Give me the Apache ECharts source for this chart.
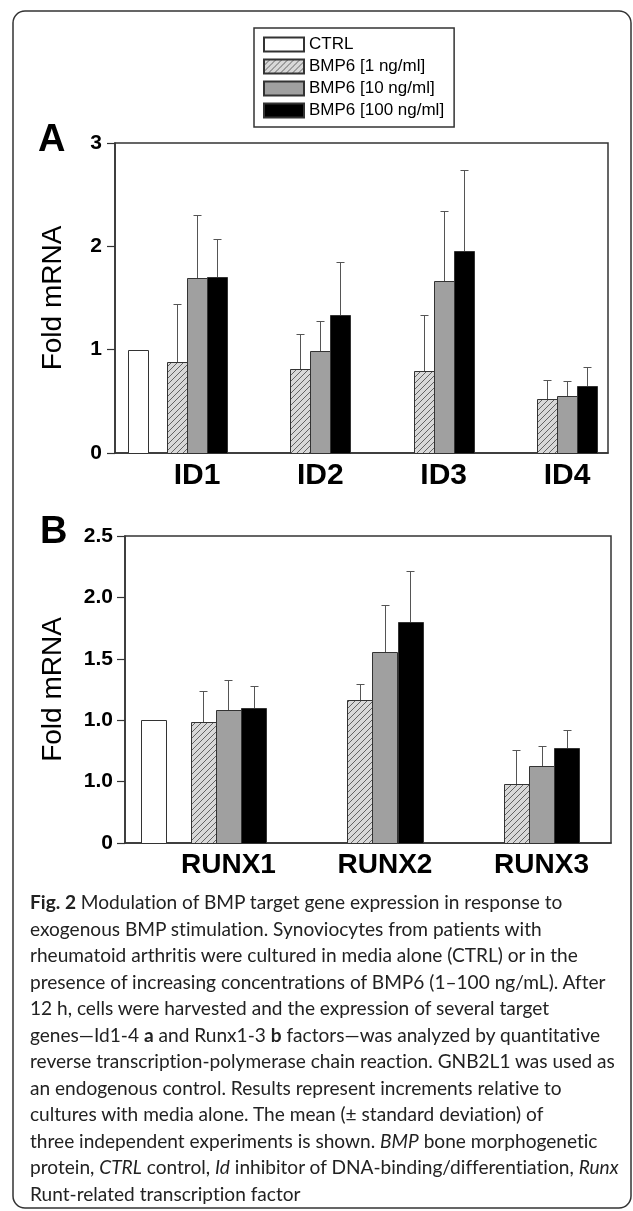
<!DOCTYPE html>
<html>
<head>
<meta charset="utf-8">
<title>BMP target genes</title>
<script src="https://cdn.jsdelivr.net/npm/echarts@6/dist/echarts.min.js"></script>
<style>
html, body { margin: 0; padding: 0; background: #fff; }
#wrap { position: relative; width: 633px; height: 1211px; overflow: hidden; }
#main { position: absolute; left: 0; top: 0; width: 633px; height: 1211px; }
#caption {
    position: absolute; left: 30px; top: 889px;
    font-family: 'Lato', sans-serif; font-size: 19.1px; line-height: 26.5px;
    font-variant-ligatures: none;
    color: #222; white-space: nowrap;
}
#caption b { font-weight: 700; }
</style>
</head>
<body>
<div id="wrap">
    <div id="main"></div>
    <div id="caption">
        <div><b>Fig. 2</b> Modulation of BMP target gene expression in response to</div>
        <div>exogenous BMP stimulation. Synoviocytes from patients with</div>
        <div>rheumatoid arthritis were cultured in media alone (CTRL) or in the</div>
        <div>presence of increasing concentrations of BMP6 (1–100 ng/mL). After</div>
        <div>12 h, cells were harvested and the expression of several target</div>
        <div>genes—Id1-4 <b>a</b> and Runx1-3 <b>b</b> factors—was analyzed by quantitative</div>
        <div>reverse transcription-polymerase chain reaction. GNB2L1 was used as</div>
        <div>an endogenous control. Results represent increments relative to</div>
        <div>cultures with media alone. The mean (± standard deviation) of</div>
        <div>three independent experiments is shown. <i>BMP</i> bone morphogenetic</div>
        <div>protein, <i>CTRL</i> control, <i>Id</i> inhibitor of DNA-binding/differentiation, <i>Runx</i></div>
        <div>Runt-related transcription factor</div>
    </div>
</div>
<script>
// ---- data ----
const seriesNames = ['CTRL', 'BMP6 [1 ng/ml]', 'BMP6 [10 ng/ml]', 'BMP6 [100 ng/ml]'];

// panel A: Id genes
const genesA = ['ID1', 'ID2', 'ID3', 'ID4'];
const ctrlA = 1.0;
const bmp1A = [0.88, 0.815, 0.795, 0.52];
const bmp1A_sd = [0.565, 0.335, 0.54, 0.188];
const bmp10A = [1.69, 0.986, 1.668, 0.553];
const bmp10A_sd = [0.615, 0.294, 0.672, 0.145];
const bmp100A = [1.70, 1.335, 1.953, 0.65];
const bmp100A_sd = [0.37, 0.515, 0.785, 0.184];
const yTicksA = ['0', '1', '2', '3'];

// panel B: Runx genes
const genesB = ['RUNX1', 'RUNX2', 'RUNX3'];
const ctrlB = 1.0;
const bmp1B = [0.982, 1.164, 0.483];
const bmp1B_sd = [0.253, 0.133, 0.277];
const bmp10B = [1.08, 1.552, 0.627];
const bmp10B_sd = [0.244, 0.383, 0.165];
const bmp100B = [1.096, 1.802, 0.773];
const bmp100B_sd = [0.184, 0.41, 0.147];
const yTicksB = ['0', '1.0', '1.0', '1.5', '2.0', '2.5'];  // as printed in the figure

// ---- layout ----
const CTRL_X = 0.52;   // ctrl bar sits left of the first group
const BAR_A = 0.162, BAR_B = 0.16;
const LINE = '#333';
const FONT = 'Liberation Sans, Arial, sans-serif';

// hatched fill for 1 ng/ml
function makeHatch() {
    const s = 6;
    const c = document.createElement('canvas');
    c.width = s; c.height = s;
    const g = c.getContext('2d');
    g.fillStyle = '#d8d8d8';
    g.fillRect(0, 0, s, s);
    g.strokeStyle = '#555';
    g.lineWidth = 0.9;
    g.beginPath();
    g.moveTo(0, s); g.lineTo(s, 0);
    g.moveTo(-1, 1); g.lineTo(1, -1);
    g.moveTo(s - 1, s + 1); g.lineTo(s + 1, s - 1);
    g.stroke();
    return c;
}
const hatchFill = { image: makeHatch(), repeat: 'repeat' };
const fills = ['#fff', hatchFill, '#a0a0a0', '#000'];

function pts(vals, sds) {
    return vals.map((v, i) => [i + 1, v, sds[i]]);
}

function barRender(offset, width, fill) {
    return function (params, api) {
        const x = api.value(0) + offset;
        const v = api.value(1);
        const sd = api.value(2);
        const p0 = api.coord([x - width / 2, 0]);
        const p1 = api.coord([x + width / 2, v]);
        const children = [{
            type: 'rect',
            shape: { x: Math.round(p0[0]) + 0.5, y: Math.round(p1[1]) + 0.5,
                     width: Math.round(p1[0] - p0[0]), height: Math.round(p0[1] - p1[1]) },
            style: { fill: fill, stroke: LINE, lineWidth: 1 }
        }];
        if (sd > 0) {
            const b = api.coord([x, v]);
            const t = api.coord([x, v + sd]);
            const cx = Math.round(b[0]) + 0.5;
            const ty = Math.round(t[1]) + 0.5;
            children.push({
                type: 'line', shape: { x1: cx, y1: Math.round(b[1]), x2: cx, y2: ty },
                style: { stroke: '#555', lineWidth: 1 }
            });
            children.push({
                type: 'line', shape: { x1: cx - 4, y1: ty, x2: cx + 4, y2: ty },
                style: { stroke: '#555', lineWidth: 1 }
            });
        }
        return { type: 'group', children: children };
    };
}

function panelSeries(idx, ctrl, groups, barW) {
    const out = [];
    out.push({
        name: seriesNames[0], type: 'custom', xAxisIndex: idx, yAxisIndex: idx,
        itemStyle: { color: fills[0], borderColor: LINE, borderWidth: 1 },
        renderItem: barRender(0, barW, fills[0]),
        data: [[CTRL_X, ctrl, 0]]
    });
    groups.forEach((g, k) => {
        out.push({
            name: seriesNames[k + 1], type: 'custom', xAxisIndex: idx, yAxisIndex: idx,
            itemStyle: { color: fills[k + 1], borderColor: LINE, borderWidth: 1 },
            renderItem: barRender((k - 1) * barW, barW, fills[k + 1]),
            data: g
        });
    });
    return out;
}

function xAxisFor(idx, genes, min, max, size) {
    return {
        type: 'value', gridIndex: idx, min: min, max: max,
        axisLine: { show: true, lineStyle: { color: LINE, width: 1.5 } },
        axisTick: { show: false },
        splitLine: { show: false },
        axisLabel: {
            customValues: genes.map((g, i) => i + 1),
            formatter: v => genes[Math.round(v) - 1] || '',
            color: '#000', fontFamily: FONT, fontWeight: 'bold', fontSize: size, margin: 8
        }
    };
}

function yAxisFor(idx, max, step, ticks, gap, labelGap) {
    return {
        type: 'value', gridIndex: idx, min: 0, max: max, interval: step,
        name: 'Fold mRNA', nameLocation: 'middle', nameGap: gap, nameRotate: 90,
        nameTextStyle: { color: '#000', fontFamily: FONT, fontSize: 28 },
        axisLine: { show: true, lineStyle: { color: LINE, width: 1.5 } },
        axisTick: { show: true, length: 8, lineStyle: { color: LINE, width: 1.2 } },
        splitLine: { show: false },
        axisLabel: {
            formatter: v => ticks[Math.round(v / step)],
            color: '#000', fontFamily: FONT, fontWeight: 'bold', fontSize: 21, margin: labelGap
        }
    };
}

const chart = echarts.init(document.getElementById('main'));
chart.setOption({
    animation: false,
    backgroundColor: '#fff',
    legend: {
        data: seriesNames, selectedMode: false, orient: 'vertical',
        left: 254, top: 28, padding: [8, 10, 8, 9],
        borderColor: LINE, borderWidth: 1.5,
        icon: 'rect', itemWidth: 40, itemHeight: 14, itemGap: 5, itemTextGap: 5,
        textStyle: { color: '#000', fontFamily: FONT, fontSize: 17, lineHeight: 14 }
    },
    grid: [
        { left: 115, top: 143, width: 493, height: 310, show: true, borderColor: LINE, borderWidth: 1.5 },
        { left: 125, top: 536, width: 486, height: 307, show: true, borderColor: LINE, borderWidth: 1.5 }
    ],
    xAxis: [
        xAxisFor(0, genesA, 0.335, 4.332, 30),
        xAxisFor(1, genesB, 0.339, 3.444, 28)
    ],
    yAxis: [
        yAxisFor(0, 3, 1, yTicksA, 48, 13),
        yAxisFor(1, 2.5, 0.5, yTicksB, 58, 12)
    ],
    graphic: [
        { type: 'rect', shape: { x: 13, y: 11, width: 618, height: 1197, r: 12 },
          style: { fill: 'none', stroke: LINE, lineWidth: 1.5 }, z: -1 },
        { type: 'text', left: 38, top: 122, style: { text: 'A', font: 'bold 38px ' + FONT, fill: '#000' } },
        { type: 'text', left: 40, top: 514, style: { text: 'B', font: 'bold 38px ' + FONT, fill: '#000' } }
    ],
    series: [].concat(
        panelSeries(0, ctrlA, [pts(bmp1A, bmp1A_sd), pts(bmp10A, bmp10A_sd), pts(bmp100A, bmp100A_sd)], BAR_A),
        panelSeries(1, ctrlB, [pts(bmp1B, bmp1B_sd), pts(bmp10B, bmp10B_sd), pts(bmp100B, bmp100B_sd)], BAR_B)
    )
});
</script>
</body>
</html>
